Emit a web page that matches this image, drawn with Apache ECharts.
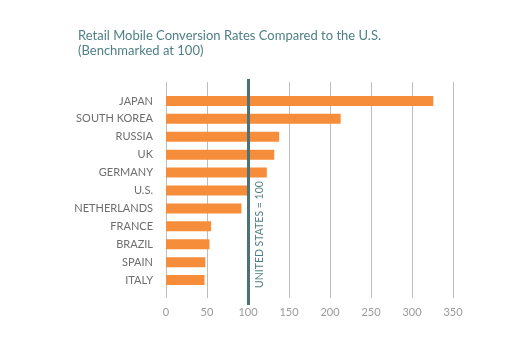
<!DOCTYPE html>
<html><head><meta charset="utf-8">
<script src="https://cdn.jsdelivr.net/npm/echarts@6/dist/echarts.min.js"></script>
<style>html,body{margin:0;padding:0;background:#fff}#c{width:512px;height:346px}</style>
</head><body><div id="c"></div>
<script>
const categories = ["JAPAN","SOUTH KOREA","RUSSIA","UK","GERMANY","U.S.","NETHERLANDS","FRANCE","BRAZIL","SPAIN","ITALY"];
const values = [326, 213, 138, 132, 123, 100, 92, 55, 53, 48, 47];
const xTicks = [0, 50, 100, 150, 200, 250, 300, 350];
const benchmark = 100;
const benchmarkLabel = "UNITED STATES = 100";
const titleLines = ["Retail Mobile Conversion Rates Compared to the U.S.", "(Benchmarked at 100)"];

const chart = echarts.init(document.getElementById('c'));
const font = 'Lato, "Open Sans", sans-serif';
const xMin = xTicks[0], xMax = xTicks[xTicks.length-1], xInt = xTicks[1]-xTicks[0];
chart.setOption({
  animation: false,
  title: {
    text: titleLines.join('\n'), left: 73, top: 23,
    textStyle: {color: '#4f7f86', fontSize: 13, fontWeight: 'normal', fontFamily: font, lineHeight: 15}
  },
  grid: [
    {left: 166, width: 287, top: 82, height: 216},
    {left: 166, width: 287, top: 92, height: 197},
    {left: 166, width: 287, top: 79, height: 226}
  ],
  xAxis: [
    {gridIndex: 0, type: 'value', min: xMin, max: xMax, interval: xInt,
     axisLine: {show: false}, axisTick: {show: false},
     splitLine: {show: true, lineStyle: {color: '#bdbdbd', width: 1}},
     axisLabel: {color: '#9a9a9a', fontSize: 11, fontFamily: font, margin: 9}},
    {gridIndex: 1, type: 'value', min: xMin, max: xMax, show: false},
    {gridIndex: 2, type: 'value', min: xMin, max: xMax, show: false}
  ],
  yAxis: [
    {gridIndex: 0, type: 'category', data: categories, show: false},
    {gridIndex: 1, type: 'category', data: categories, inverse: true,
     axisLine: {show: false}, axisTick: {show: false},
     axisLabel: {color: '#6e6e6e', fontSize: 11, fontFamily: font, margin: 13}},
    {gridIndex: 2, type: 'value', min: 0, max: 1, show: false}
  ],
  series: [
    {type: 'bar', xAxisIndex: 1, yAxisIndex: 1, data: values, barWidth: 10,
     itemStyle: {color: '#f68d3b'}},
    {type: 'line', xAxisIndex: 2, yAxisIndex: 2, data: [],
     markLine: {symbol: 'none', silent: true,
       lineStyle: {color: '#4b7377', width: 3, type: 'solid'},
       label: {show: true, formatter: benchmarkLabel, position: 'insideStartBottom',
         color: '#4f7f86', fontSize: 10.5, fontFamily: font, distance: [17, 6]},
       data: [{xAxis: benchmark}]}}
  ]
});
</script></body></html>
